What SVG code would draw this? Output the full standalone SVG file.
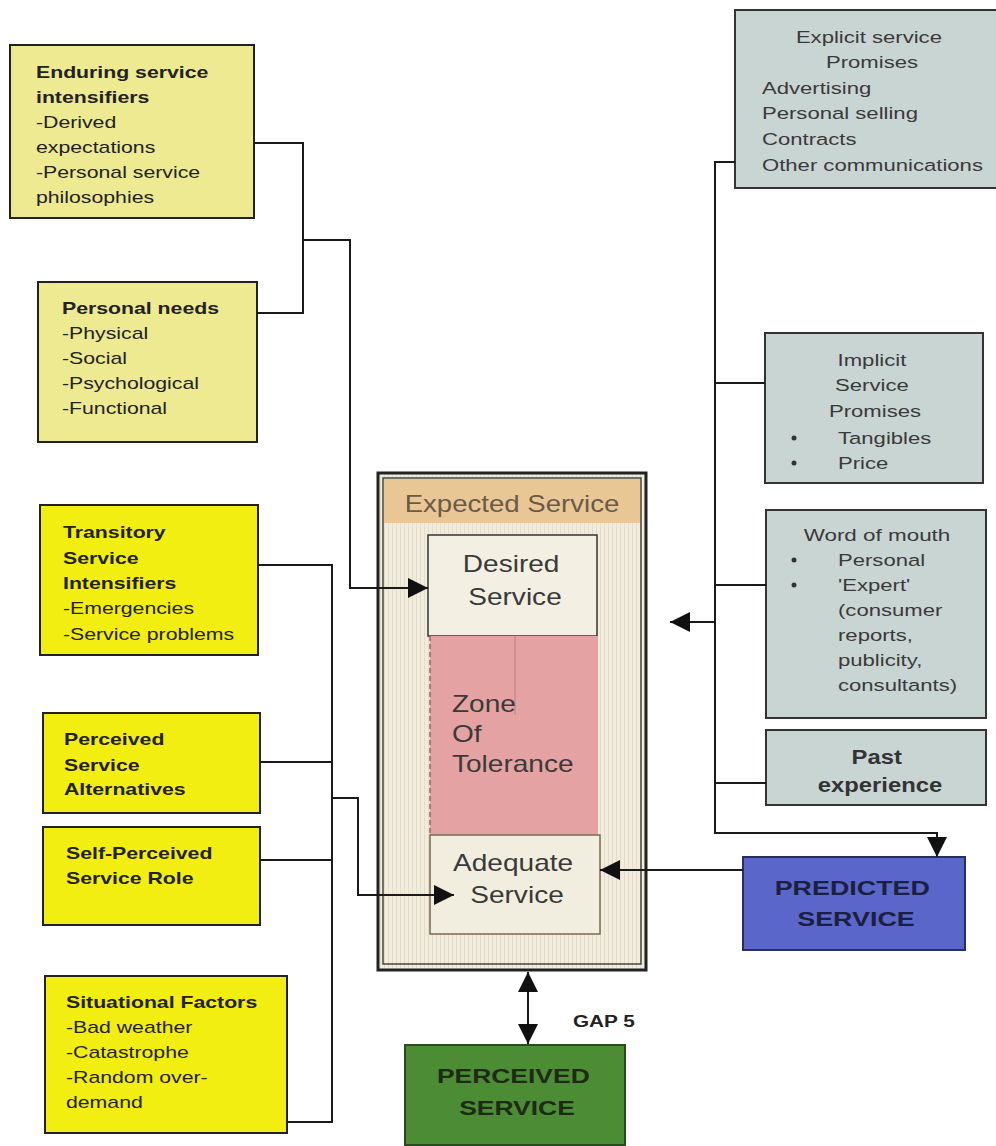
<svg xmlns="http://www.w3.org/2000/svg" width="996" height="1146" viewBox="0 0 996 1146">
  <defs>
    <marker id="arrow" viewBox="0 0 10 10" refX="10" refY="5" markerWidth="20" markerHeight="20" markerUnits="userSpaceOnUse" orient="auto">
      <path d="M0,0 L10,5 L0,10 z" fill="#111"/>
    </marker>
    <marker id="arrowStart" viewBox="0 0 10 10" refX="0" refY="5" markerWidth="20" markerHeight="20" markerUnits="userSpaceOnUse" orient="auto">
      <path d="M10,0 L0,5 L10,10 z" fill="#111"/>
    </marker>
    <pattern id="grain" width="4" height="4" patternUnits="userSpaceOnUse">
      <rect width="4" height="4" fill="#f1ecdc"/>
      <rect width="1" height="4" fill="#e2dccb"/>
    </pattern>
  </defs>
  <style>
    text { font-family: "Liberation Sans", Arial, sans-serif; fill: #222; }
    .box { stroke: #222; stroke-width: 2; }
    .pale { fill: #eeea92; }
    .bright { fill: #f3ee12; }
    .grey { fill: #c9d5d3; stroke: #333; stroke-width: 2; }
    .t17 { font-size: 17px; }
    .b { font-weight: bold; }
    .big { font-size: 23px; }
    .mid { text-anchor: middle; }
    .conn { fill: none; stroke: #1a1a1a; stroke-width: 2; }
    .grayText { fill: #3a3a3a; }
  </style>

  <!-- left-side factor boxes (text widened horizontally about its anchor x) -->
  <g id="enduring">
    <rect class="box pale" x="10" y="45" width="244" height="173"/>
    <text class="t17" x="36" y="78" transform="matrix(1.25,0,0,1,-9,0)"><tspan class="b">Enduring service</tspan>
      <tspan x="36" y="103" class="b">intensifiers</tspan>
      <tspan x="36" y="128">-Derived</tspan>
      <tspan x="36" y="153">expectations</tspan>
      <tspan x="36" y="178">-Personal service</tspan>
      <tspan x="36" y="203">philosophies</tspan></text>
  </g>

  <g id="personal-needs">
    <rect class="box pale" x="38" y="282" width="219" height="160"/>
    <text class="t17" x="62" y="314" transform="matrix(1.25,0,0,1,-15.5,0)"><tspan class="b">Personal needs</tspan>
      <tspan x="62" y="339">-Physical</tspan>
      <tspan x="62" y="364">-Social</tspan>
      <tspan x="62" y="389">-Psychological</tspan>
      <tspan x="62" y="414">-Functional</tspan></text>
  </g>

  <g id="transitory">
    <rect class="box bright" x="40" y="505" width="218" height="150"/>
    <text class="t17 b" x="63" y="538" transform="matrix(1.25,0,0,1,-15.75,0)">Transitory
      <tspan x="63" y="564">Service</tspan>
      <tspan x="63" y="589">Intensifiers</tspan>
      <tspan x="63" y="614" font-weight="normal">-Emergencies</tspan>
      <tspan x="63" y="640" font-weight="normal">-Service problems</tspan></text>
  </g>

  <g id="alternatives">
    <rect class="box bright" x="43" y="713" width="217" height="100"/>
    <text class="t17 b" x="64" y="745" transform="matrix(1.25,0,0,1,-16,0)">Perceived
      <tspan x="64" y="771">Service</tspan>
      <tspan x="64" y="795">Alternatives</tspan></text>
  </g>

  <g id="self-perceived">
    <rect class="box bright" x="43" y="827" width="217" height="98"/>
    <text class="t17 b" x="66" y="859" transform="matrix(1.25,0,0,1,-16.5,0)">Self-Perceived
      <tspan x="66" y="884">Service Role</tspan></text>
  </g>

  <g id="situational">
    <rect class="box bright" x="45" y="976" width="242" height="157"/>
    <text class="t17" x="66" y="1008" transform="matrix(1.25,0,0,1,-16.5,0)"><tspan class="b">Situational Factors</tspan>
      <tspan x="66" y="1033">-Bad weather</tspan>
      <tspan x="66" y="1058">-Catastrophe</tspan>
      <tspan x="66" y="1083">-Random over-</tspan>
      <tspan x="66" y="1108">demand</tspan></text>
  </g>

  <!-- expected service with its zones -->
  <g id="expected-service">
    <rect x="378" y="473" width="268" height="497" fill="url(#grain)" stroke="#222" stroke-width="3"/>
    <rect x="383" y="478" width="258" height="486" fill="none" stroke="#444" stroke-width="1.5"/>
    <rect x="384" y="479" width="256" height="44" fill="#e9c795"/>
    <text class="big mid" x="512" y="512" transform="matrix(1.2,0,0,1,-102.4,0)" style="fill:#6b5a48">Expected Service</text>
  </g>

  <g id="desired-service">
    <rect x="428" y="535" width="169" height="101" fill="#f3f0e3" stroke="#333" stroke-width="1.5"/>
    <text class="big mid grayText" x="515" y="572" transform="matrix(1.22,0,0,1,-113.3,0)">Desired
      <tspan x="515" y="605">Service</tspan></text>
  </g>

  <g id="zone-of-tolerance">
    <rect x="430" y="636" width="168" height="199" fill="#e4a3a2"/>
    <line x1="430" y1="636" x2="430" y2="835" stroke="#8a6a5a" stroke-width="1.5" stroke-dasharray="5,3"/>
    <line x1="515" y1="636" x2="515" y2="715" stroke="#b88080" stroke-width="1"/>
    <text class="big grayText" x="452" y="712" transform="matrix(1.22,0,0,1,-99.44,0)">Zone
      <tspan x="452" y="742">Of</tspan>
      <tspan x="452" y="772">Tolerance</tspan></text>
  </g>

  <g id="adequate-service">
    <rect x="430" y="835" width="170" height="99" fill="#f1eee0" stroke="#7a6a50" stroke-width="1.5"/>
    <text class="big mid grayText" x="517" y="871" transform="matrix(1.22,0,0,1,-113.74,0)">Adequate
      <tspan x="517" y="903">Service</tspan></text>
  </g>

  <g id="perceived-service">
    <rect x="405" y="1045" width="220" height="100" fill="#4b8c34" stroke="#2c4a20" stroke-width="2"/>
    <text class="mid b" font-size="21" x="517" y="1083" transform="matrix(1.26,0,0,1,-134.42,0)" style="fill:#1e2a16">PERCEIVED
      <tspan x="517" y="1115">SERVICE</tspan></text>
  </g>

  <!-- right-side promise boxes -->
  <g id="explicit">
    <rect class="grey" x="735" y="10" width="262" height="178"/>
    <text class="t17 mid grayText" x="872" y="43" transform="matrix(1.3,0,0,1,-261.6,0)">Explicit service
      <tspan x="872" y="68">Promises</tspan></text>
    <text class="t17 grayText" x="762" y="94" transform="matrix(1.3,0,0,1,-228.6,0)">Advertising
      <tspan x="762" y="119">Personal selling</tspan>
      <tspan x="762" y="145">Contracts</tspan>
      <tspan x="762" y="171">Other communications</tspan></text>
  </g>

  <g id="implicit">
    <rect class="grey" x="765" y="333" width="218" height="150"/>
    <text class="t17 mid grayText" x="875" y="366" transform="matrix(1.3,0,0,1,-262.5,0)">Implicit
      <tspan x="875" y="391">Service</tspan>
      <tspan x="875" y="417">Promises</tspan></text>
    <circle cx="794" cy="438" r="2.5" fill="#333"/>
    <circle cx="794" cy="463" r="2.5" fill="#333"/>
    <text class="t17 grayText" x="838" y="444" transform="matrix(1.3,0,0,1,-251.4,0)">Tangibles
      <tspan x="838" y="469">Price</tspan></text>
  </g>

  <g id="word-of-mouth">
    <rect class="grey" x="766" y="510" width="220" height="208"/>
    <text class="t17 mid grayText" x="877" y="541" transform="matrix(1.32,0,0,1,-280.64,0)">Word of mouth</text>
    <circle cx="794" cy="560" r="2.5" fill="#333"/>
    <circle cx="794" cy="585" r="2.5" fill="#333"/>
    <text class="t17 grayText" x="838" y="566" transform="matrix(1.3,0,0,1,-251.4,0)">Personal
      <tspan x="838" y="591">'Expert'</tspan>
      <tspan x="838" y="616">(consumer</tspan>
      <tspan x="838" y="641">reports,</tspan>
      <tspan x="838" y="666">publicity,</tspan>
      <tspan x="838" y="691">consultants)</tspan></text>
  </g>

  <g id="past-experience">
    <rect class="grey" x="766" y="730" width="220" height="75"/>
    <text class="mid b" font-size="20" x="880" y="764" transform="matrix(1.19,0,0,1,-167.2,0)" style="fill:#333">Past
      <tspan x="880" y="792">experience</tspan></text>
  </g>

  <g id="predicted-service">
    <rect x="743" y="857" width="222" height="93" fill="#5a66c9" stroke="#2a2f55" stroke-width="2"/>
    <text class="mid b" font-size="21" x="856" y="895" transform="matrix(1.28,0,0,1,-239.68,0)" style="fill:#1b2040">PREDICTED
      <tspan x="856" y="926">SERVICE</tspan></text>
  </g>

  <text id="gap5-label" class="b" font-size="17" x="573" y="1027" transform="matrix(1.22,0,0,1,-126.06,0)">GAP 5</text>

  <!-- connectors -->
  <g id="connectors">
    <polyline class="conn" points="254,143 303,143 303,313 257,313"/>
    <polyline class="conn" points="303,240 350,240 350,588 428,588" marker-end="url(#arrow)"/>

    <polyline class="conn" points="258,565 332,565 332,1122 287,1122"/>
    <line class="conn" x1="260" y1="762" x2="332" y2="762"/>
    <line class="conn" x1="260" y1="860" x2="332" y2="860"/>
    <polyline class="conn" points="332,798 358,798 358,895 454,895" marker-end="url(#arrow)"/>

    <polyline class="conn" points="735,162 715,162 715,833 937,833 937,857" marker-end="url(#arrow)"/>
    <line class="conn" x1="715" y1="383" x2="765" y2="383"/>
    <line class="conn" x1="715" y1="585" x2="766" y2="585"/>
    <line class="conn" x1="715" y1="783" x2="766" y2="783"/>
    <line class="conn" x1="715" y1="622" x2="670" y2="622" marker-end="url(#arrow)"/>

    <line class="conn" x1="743" y1="870" x2="600" y2="870" marker-end="url(#arrow)"/>

    <line class="conn" x1="528" y1="972" x2="528" y2="1044" marker-start="url(#arrowStart)" marker-end="url(#arrow)"/>
  </g>
</svg>
